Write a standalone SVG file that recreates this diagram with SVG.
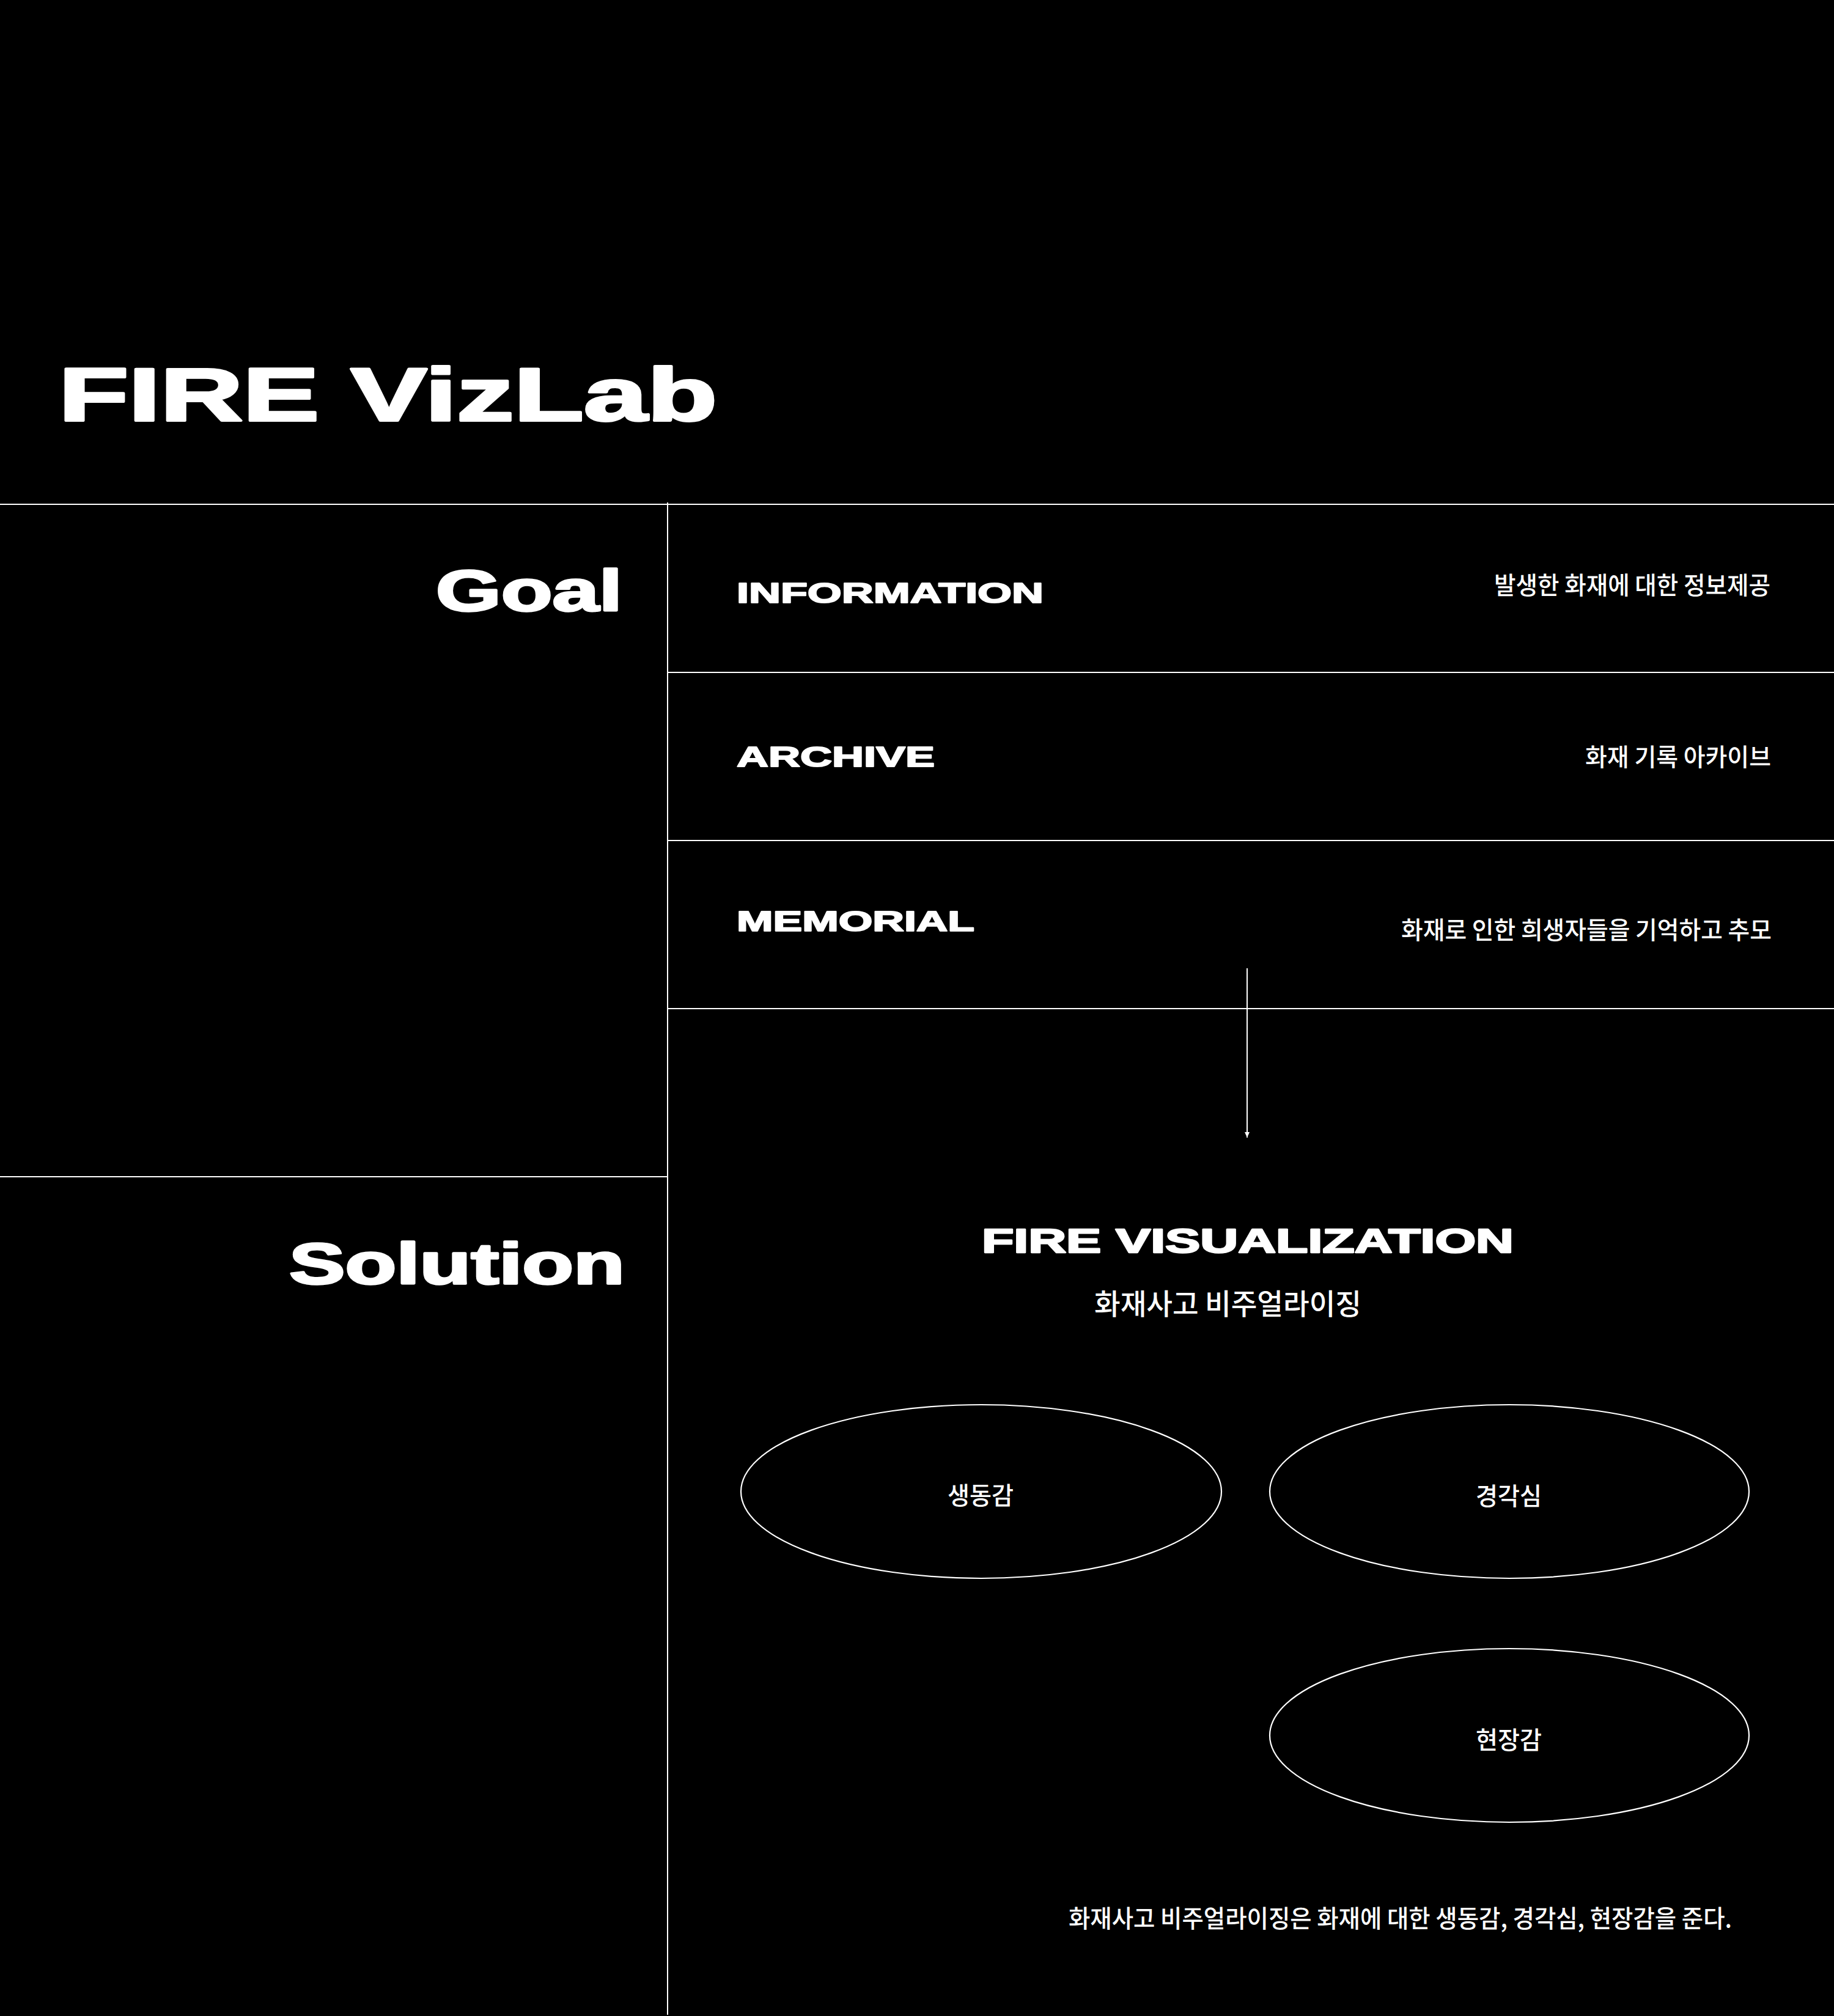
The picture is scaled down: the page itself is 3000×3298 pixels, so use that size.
<svg xmlns="http://www.w3.org/2000/svg" width="3000" height="3298" viewBox="0 0 3000 3298">
<defs>
<style>
.en{font-family:"Liberation Sans",Arial,sans-serif;font-weight:700;fill:#fff;stroke:#fff;stroke-linejoin:round}
.ko{font-family:"Noto Sans CJK KR","Noto Sans",sans-serif;font-weight:500;fill:#fff}
.ln{stroke:#fff;stroke-width:2;fill:none}
.el{stroke:#fff;stroke-width:2.2;fill:none}
</style>
<marker id="arr" markerUnits="userSpaceOnUse" markerWidth="9" markerHeight="8" viewBox="0 0 9 8" refX="9" refY="4" orient="auto">
<path d="M0,0 L9,4 L0,8 z" fill="#fff"/>
</marker>
</defs>
<rect x="0" y="0" width="3000" height="3298" fill="#000"/>

<g id="title">
<text class="en" x="96" y="688" font-size="123" stroke-width="4" textLength="1077" lengthAdjust="spacingAndGlyphs">FIRE VizLab</text>
</g>

<g id="grid">
<path class="ln" d="M0 825 H3000"/>
<path class="ln" d="M1092 822 V3296"/>
<path class="ln" d="M1092 1100 H3000"/>
<path class="ln" d="M1092 1375 H3000"/>
<path class="ln" d="M1092 1650 H3000"/>
<path class="ln" d="M0 1925 H1092"/>
</g>

<g id="goal">
<text class="en" x="713" y="999" font-size="95" stroke-width="3.5" textLength="305" lengthAdjust="spacingAndGlyphs">Goal</text>
</g>

<g id="information">
<text class="en" x="1205" y="986" font-size="47" stroke-width="2" textLength="502" lengthAdjust="spacingAndGlyphs">INFORMATION</text>
<text class="ko" x="2444" y="972" font-size="40" textLength="452" lengthAdjust="spacingAndGlyphs">발생한 화재에 대한 정보제공</text>
</g>

<g id="archive">
<text class="en" x="1205" y="1254" font-size="47" stroke-width="2" textLength="324" lengthAdjust="spacingAndGlyphs">ARCHIVE</text>
<text class="ko" x="2593" y="1253" font-size="40" textLength="304" lengthAdjust="spacingAndGlyphs">화재 기록 아카이브</text>
</g>

<g id="memorial">
<text class="en" x="1205" y="1523" font-size="47" stroke-width="2" textLength="389" lengthAdjust="spacingAndGlyphs">MEMORIAL</text>
<text class="ko" x="2292" y="1536" font-size="40" textLength="606" lengthAdjust="spacingAndGlyphs">화재로 인한 희생자들을 기억하고 추모</text>
</g>

<g id="connectors">
<path class="ln" d="M2040 1584 V1861" marker-end="url(#arr)"/>
</g>

<g id="solution">
<text class="en" x="473" y="2100" font-size="94" stroke-width="3.5" textLength="549" lengthAdjust="spacingAndGlyphs">Solution</text>
</g>

<g id="fire-visualization">
<text class="en" x="1606" y="2049" font-size="56" stroke-width="2.5" textLength="870" lengthAdjust="spacingAndGlyphs">FIRE VISUALIZATION</text>
<text class="ko" x="1790" y="2150" font-size="47" textLength="437" lengthAdjust="spacingAndGlyphs">화재사고 비주얼라이징</text>
</g>

<g id="node-vividness">
<ellipse class="el" cx="1605" cy="2440" rx="393" ry="142"/>
<text class="ko" x="1550" y="2461" font-size="40" textLength="108" lengthAdjust="spacingAndGlyphs">생동감</text>
</g>

<g id="node-alertness">
<ellipse class="el" cx="2469" cy="2440" rx="392" ry="142"/>
<text class="ko" x="2414" y="2462" font-size="40" textLength="108" lengthAdjust="spacingAndGlyphs">경각심</text>
</g>

<g id="node-presence">
<ellipse class="el" cx="2469" cy="2839" rx="392" ry="142"/>
<text class="ko" x="2414" y="2861" font-size="40" textLength="108" lengthAdjust="spacingAndGlyphs">현장감</text>
</g>

<g id="summary">
<text class="ko" x="1748" y="3153" font-size="40" textLength="1085" lengthAdjust="spacingAndGlyphs">화재사고 비주얼라이징은 화재에 대한 생동감, 경각심, 현장감을 준다.</text>
</g>
</svg>
